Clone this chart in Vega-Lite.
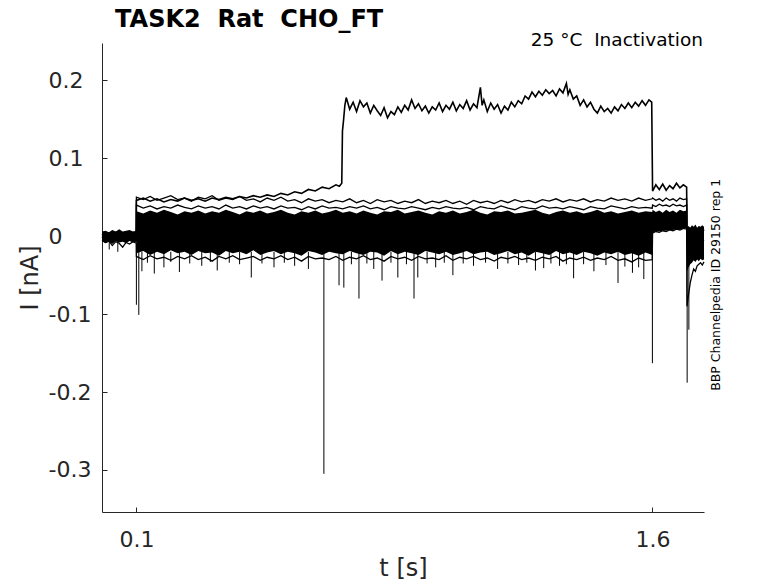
{
  "$schema": "https://vega.github.io/schema/vega-lite/v6.json",
  "autosize": "none",
  "padding": {"left": 102, "top": 43, "right": 74, "bottom": 71},
  "width": 602,
  "height": 469,
  "background": "white",
  "datasets": {
    "trace": [
      {"t": 0, "lo": -0.006, "hi": 0.006, "a": 0.003, "b": -0.002, "c": -0.005},
      {"t": 0.01, "lo": -0.009, "hi": 0.007, "a": 0.001, "b": 0.004, "c": -0.008},
      {"t": 0.02, "lo": -0.007, "hi": 0.005, "a": 0.004, "b": -0.001, "c": -0.006},
      {"t": 0.03, "lo": -0.01, "hi": 0.008, "a": 0.002, "b": 0.003, "c": -0.012},
      {"t": 0.04, "lo": -0.006, "hi": 0.006, "a": 0.005, "b": -0.003, "c": -0.007},
      {"t": 0.05, "lo": -0.008, "hi": 0.009, "a": 0.003, "b": 0.002, "c": -0.009},
      {"t": 0.06, "lo": -0.007, "hi": 0.006, "a": 0.001, "b": -0.002, "c": -0.014},
      {"t": 0.07, "lo": -0.009, "hi": 0.007, "a": 0.004, "b": 0.003, "c": -0.008},
      {"t": 0.08, "lo": -0.006, "hi": 0.008, "a": 0.002, "b": -0.001, "c": -0.01},
      {"t": 0.09, "lo": -0.008, "hi": 0.006, "a": 0.005, "b": 0.002, "c": -0.007},
      {"t": 0.0995, "lo": -0.007, "hi": 0.007, "a": 0.003, "b": 0.0, "c": -0.009},
      {"t": 0.1, "lo": -0.022, "hi": 0.032, "a": 0.05, "b": 0.04, "c": -0.026},
      {"t": 0.12, "lo": -0.019, "hi": 0.029, "a": 0.047, "b": 0.036, "c": -0.03},
      {"t": 0.14, "lo": -0.024, "hi": 0.033, "a": 0.051, "b": 0.039, "c": -0.025},
      {"t": 0.16, "lo": -0.02, "hi": 0.03, "a": 0.046, "b": 0.035, "c": -0.029},
      {"t": 0.18, "lo": -0.023, "hi": 0.034, "a": 0.049, "b": 0.038, "c": -0.027},
      {"t": 0.2, "lo": -0.018, "hi": 0.031, "a": 0.052, "b": 0.036, "c": -0.031},
      {"t": 0.22, "lo": -0.022, "hi": 0.028, "a": 0.047, "b": 0.04, "c": -0.026},
      {"t": 0.24, "lo": -0.02, "hi": 0.032, "a": 0.049, "b": 0.037, "c": -0.029},
      {"t": 0.26, "lo": -0.024, "hi": 0.03, "a": 0.045, "b": 0.035, "c": -0.025},
      {"t": 0.28, "lo": -0.019, "hi": 0.033, "a": 0.05, "b": 0.039, "c": -0.03},
      {"t": 0.3, "lo": -0.022, "hi": 0.029, "a": 0.048, "b": 0.036, "c": -0.027},
      {"t": 0.32, "lo": -0.021, "hi": 0.032, "a": 0.052, "b": 0.038, "c": -0.032},
      {"t": 0.34, "lo": -0.025, "hi": 0.03, "a": 0.046, "b": 0.035, "c": -0.026},
      {"t": 0.36, "lo": -0.019, "hi": 0.034, "a": 0.049, "b": 0.04, "c": -0.029},
      {"t": 0.38, "lo": -0.022, "hi": 0.031, "a": 0.047, "b": 0.036, "c": -0.025},
      {"t": 0.4, "lo": -0.02, "hi": 0.028, "a": 0.051, "b": 0.038, "c": -0.03},
      {"t": 0.42, "lo": -0.023, "hi": 0.032, "a": 0.046, "b": 0.035, "c": -0.028},
      {"t": 0.44, "lo": -0.018, "hi": 0.03, "a": 0.048, "b": 0.039, "c": -0.026},
      {"t": 0.46, "lo": -0.024, "hi": 0.033, "a": 0.044, "b": 0.036, "c": -0.031},
      {"t": 0.48, "lo": -0.021, "hi": 0.029, "a": 0.049, "b": 0.038, "c": -0.027},
      {"t": 0.5, "lo": -0.019, "hi": 0.031, "a": 0.046, "b": 0.035, "c": -0.029},
      {"t": 0.52, "lo": -0.023, "hi": 0.034, "a": 0.05, "b": 0.039, "c": -0.025},
      {"t": 0.54, "lo": -0.02, "hi": 0.03, "a": 0.045, "b": 0.036, "c": -0.03},
      {"t": 0.56, "lo": -0.022, "hi": 0.028, "a": 0.047, "b": 0.037, "c": -0.027},
      {"t": 0.58, "lo": -0.025, "hi": 0.032, "a": 0.043, "b": 0.034, "c": -0.032},
      {"t": 0.6, "lo": -0.019, "hi": 0.03, "a": 0.048, "b": 0.038, "c": -0.026},
      {"t": 0.62, "lo": -0.021, "hi": 0.033, "a": 0.045, "b": 0.035, "c": -0.029},
      {"t": 0.64, "lo": -0.024, "hi": 0.029, "a": 0.047, "b": 0.039, "c": -0.028},
      {"t": 0.66, "lo": -0.02, "hi": 0.031, "a": 0.043, "b": 0.036, "c": -0.03},
      {"t": 0.68, "lo": -0.022, "hi": 0.034, "a": 0.046, "b": 0.037, "c": -0.026},
      {"t": 0.7, "lo": -0.023, "hi": 0.03, "a": 0.044, "b": 0.035, "c": -0.031},
      {"t": 0.72, "lo": -0.019, "hi": 0.032, "a": 0.048, "b": 0.038, "c": -0.027},
      {"t": 0.74, "lo": -0.022, "hi": 0.029, "a": 0.043, "b": 0.036, "c": -0.029},
      {"t": 0.76, "lo": -0.024, "hi": 0.033, "a": 0.046, "b": 0.039, "c": -0.025},
      {"t": 0.78, "lo": -0.02, "hi": 0.03, "a": 0.042, "b": 0.035, "c": -0.03},
      {"t": 0.8, "lo": -0.021, "hi": 0.028, "a": 0.047, "b": 0.037, "c": -0.028},
      {"t": 0.82, "lo": -0.025, "hi": 0.032, "a": 0.044, "b": 0.034, "c": -0.032},
      {"t": 0.84, "lo": -0.019, "hi": 0.031, "a": 0.046, "b": 0.038, "c": -0.026},
      {"t": 0.86, "lo": -0.023, "hi": 0.034, "a": 0.042, "b": 0.036, "c": -0.029},
      {"t": 0.88, "lo": -0.02, "hi": 0.029, "a": 0.045, "b": 0.035, "c": -0.027},
      {"t": 0.9, "lo": -0.022, "hi": 0.031, "a": 0.043, "b": 0.038, "c": -0.031},
      {"t": 0.92, "lo": -0.024, "hi": 0.033, "a": 0.047, "b": 0.036, "c": -0.026},
      {"t": 0.94, "lo": -0.019, "hi": 0.03, "a": 0.042, "b": 0.034, "c": -0.029},
      {"t": 0.96, "lo": -0.021, "hi": 0.028, "a": 0.045, "b": 0.037, "c": -0.028},
      {"t": 0.98, "lo": -0.023, "hi": 0.032, "a": 0.043, "b": 0.035, "c": -0.03},
      {"t": 1.0, "lo": -0.02, "hi": 0.03, "a": 0.046, "b": 0.038, "c": -0.025},
      {"t": 1.02, "lo": -0.024, "hi": 0.033, "a": 0.042, "b": 0.036, "c": -0.031},
      {"t": 1.04, "lo": -0.022, "hi": 0.029, "a": 0.045, "b": 0.035, "c": -0.027},
      {"t": 1.06, "lo": -0.019, "hi": 0.031, "a": 0.041, "b": 0.037, "c": -0.029},
      {"t": 1.08, "lo": -0.023, "hi": 0.034, "a": 0.046, "b": 0.034, "c": -0.026},
      {"t": 1.1, "lo": -0.021, "hi": 0.03, "a": 0.043, "b": 0.038, "c": -0.03},
      {"t": 1.12, "lo": -0.02, "hi": 0.028, "a": 0.045, "b": 0.036, "c": -0.028},
      {"t": 1.14, "lo": -0.024, "hi": 0.032, "a": 0.042, "b": 0.035, "c": -0.032},
      {"t": 1.16, "lo": -0.022, "hi": 0.031, "a": 0.046, "b": 0.039, "c": -0.027},
      {"t": 1.18, "lo": -0.019, "hi": 0.033, "a": 0.043, "b": 0.036, "c": -0.029},
      {"t": 1.2, "lo": -0.023, "hi": 0.029, "a": 0.047, "b": 0.034, "c": -0.026},
      {"t": 1.22, "lo": -0.021, "hi": 0.03, "a": 0.044, "b": 0.038, "c": -0.03},
      {"t": 1.24, "lo": -0.025, "hi": 0.032, "a": 0.046, "b": 0.036, "c": -0.028},
      {"t": 1.26, "lo": -0.02, "hi": 0.034, "a": 0.043, "b": 0.035, "c": -0.031},
      {"t": 1.28, "lo": -0.022, "hi": 0.03, "a": 0.047, "b": 0.039, "c": -0.027},
      {"t": 1.3, "lo": -0.024, "hi": 0.028, "a": 0.045, "b": 0.036, "c": -0.029},
      {"t": 1.32, "lo": -0.019, "hi": 0.031, "a": 0.048, "b": 0.037, "c": -0.026},
      {"t": 1.34, "lo": -0.023, "hi": 0.033, "a": 0.044, "b": 0.035, "c": -0.032},
      {"t": 1.36, "lo": -0.021, "hi": 0.03, "a": 0.047, "b": 0.038, "c": -0.028},
      {"t": 1.38, "lo": -0.024, "hi": 0.032, "a": 0.045, "b": 0.036, "c": -0.03},
      {"t": 1.4, "lo": -0.02, "hi": 0.029, "a": 0.048, "b": 0.034, "c": -0.027},
      {"t": 1.42, "lo": -0.022, "hi": 0.031, "a": 0.044, "b": 0.038, "c": -0.031},
      {"t": 1.44, "lo": -0.025, "hi": 0.034, "a": 0.047, "b": 0.036, "c": -0.028},
      {"t": 1.46, "lo": -0.021, "hi": 0.03, "a": 0.045, "b": 0.035, "c": -0.03},
      {"t": 1.48, "lo": -0.023, "hi": 0.032, "a": 0.049, "b": 0.039, "c": -0.026},
      {"t": 1.5, "lo": -0.02, "hi": 0.029, "a": 0.046, "b": 0.037, "c": -0.031},
      {"t": 1.52, "lo": -0.024, "hi": 0.031, "a": 0.048, "b": 0.035, "c": -0.029},
      {"t": 1.54, "lo": -0.022, "hi": 0.033, "a": 0.045, "b": 0.038, "c": -0.033},
      {"t": 1.56, "lo": -0.025, "hi": 0.03, "a": 0.049, "b": 0.036, "c": -0.028},
      {"t": 1.58, "lo": -0.021, "hi": 0.032, "a": 0.046, "b": 0.037, "c": -0.031},
      {"t": 1.5995, "lo": -0.024, "hi": 0.031, "a": 0.048, "b": 0.036, "c": -0.03},
      {"t": 1.6005, "lo": 0.005, "hi": 0.034, "a": 0.049, "b": 0.04, "c": 0.004},
      {"t": 1.61, "lo": 0.006, "hi": 0.031, "a": 0.046, "b": 0.038, "c": 0.006},
      {"t": 1.62, "lo": 0.006, "hi": 0.033, "a": 0.048, "b": 0.041, "c": 0.005},
      {"t": 1.63, "lo": 0.007, "hi": 0.03, "a": 0.045, "b": 0.039, "c": 0.007},
      {"t": 1.64, "lo": 0.007, "hi": 0.034, "a": 0.049, "b": 0.04, "c": 0.006},
      {"t": 1.65, "lo": 0.008, "hi": 0.031, "a": 0.046, "b": 0.038, "c": 0.008},
      {"t": 1.66, "lo": 0.008, "hi": 0.033, "a": 0.048, "b": 0.041, "c": 0.007},
      {"t": 1.67, "lo": 0.009, "hi": 0.03, "a": 0.045, "b": 0.039, "c": 0.009},
      {"t": 1.68, "lo": 0.009, "hi": 0.034, "a": 0.049, "b": 0.04, "c": 0.008},
      {"t": 1.69, "lo": 0.01, "hi": 0.032, "a": 0.047, "b": 0.038, "c": 0.01},
      {"t": 1.6995, "lo": 0.01, "hi": 0.033, "a": 0.048, "b": 0.04, "c": 0.009},
      {"t": 1.7005, "lo": -0.045, "hi": 0.01, "a": 0.008, "b": -0.01, "c": -0.09},
      {"t": 1.705, "lo": -0.04, "hi": 0.013, "a": 0.011, "b": -0.005, "c": -0.075},
      {"t": 1.71, "lo": -0.036, "hi": 0.011, "a": 0.006, "b": -0.012, "c": -0.06},
      {"t": 1.715, "lo": -0.034, "hi": 0.014, "a": 0.01, "b": -0.004, "c": -0.05},
      {"t": 1.72, "lo": -0.031, "hi": 0.012, "a": 0.007, "b": -0.009, "c": -0.042},
      {"t": 1.725, "lo": -0.033, "hi": 0.015, "a": 0.012, "b": -0.003, "c": -0.045},
      {"t": 1.73, "lo": -0.03, "hi": 0.011, "a": 0.008, "b": -0.008, "c": -0.038},
      {"t": 1.735, "lo": -0.032, "hi": 0.013, "a": 0.011, "b": -0.002, "c": -0.036},
      {"t": 1.74, "lo": -0.029, "hi": 0.012, "a": 0.006, "b": -0.007, "c": -0.034},
      {"t": 1.745, "lo": -0.031, "hi": 0.014, "a": 0.01, "b": -0.004, "c": -0.037},
      {"t": 1.75, "lo": -0.03, "hi": 0.012, "a": 0.008, "b": -0.006, "c": -0.033}
    ],
    "raised": [
      {"t": 0, "i": 0.002}, {"t": 0.02, "i": -0.003}, {"t": 0.04, "i": 0.004}, {"t": 0.06, "i": -0.001},
      {"t": 0.08, "i": 0.003}, {"t": 0.0995, "i": 0.0},
      {"t": 0.1, "i": 0.046}, {"t": 0.12, "i": 0.049}, {"t": 0.14, "i": 0.045}, {"t": 0.16, "i": 0.048},
      {"t": 0.18, "i": 0.044}, {"t": 0.2, "i": 0.047}, {"t": 0.22, "i": 0.045}, {"t": 0.24, "i": 0.049},
      {"t": 0.26, "i": 0.046}, {"t": 0.28, "i": 0.048}, {"t": 0.3, "i": 0.045}, {"t": 0.32, "i": 0.049},
      {"t": 0.34, "i": 0.047}, {"t": 0.36, "i": 0.05}, {"t": 0.38, "i": 0.048}, {"t": 0.4, "i": 0.051},
      {"t": 0.42, "i": 0.049}, {"t": 0.44, "i": 0.052}, {"t": 0.46, "i": 0.05}, {"t": 0.48, "i": 0.053},
      {"t": 0.5, "i": 0.051}, {"t": 0.52, "i": 0.055}, {"t": 0.54, "i": 0.053}, {"t": 0.56, "i": 0.057},
      {"t": 0.58, "i": 0.055}, {"t": 0.6, "i": 0.06}, {"t": 0.62, "i": 0.058}, {"t": 0.64, "i": 0.063},
      {"t": 0.66, "i": 0.061}, {"t": 0.68, "i": 0.066}, {"t": 0.69, "i": 0.064}, {"t": 0.697, "i": 0.068},
      {"t": 0.699, "i": 0.135}, {"t": 0.702, "i": 0.148}, {"t": 0.706, "i": 0.168},
      {"t": 0.71, "i": 0.178}, {"t": 0.72, "i": 0.163}, {"t": 0.73, "i": 0.172}, {"t": 0.74, "i": 0.16},
      {"t": 0.75, "i": 0.174}, {"t": 0.76, "i": 0.166}, {"t": 0.77, "i": 0.171}, {"t": 0.78, "i": 0.158},
      {"t": 0.79, "i": 0.168}, {"t": 0.8, "i": 0.161}, {"t": 0.81, "i": 0.155}, {"t": 0.82, "i": 0.165},
      {"t": 0.83, "i": 0.152}, {"t": 0.84, "i": 0.16}, {"t": 0.85, "i": 0.156}, {"t": 0.86, "i": 0.166},
      {"t": 0.87, "i": 0.159}, {"t": 0.88, "i": 0.168}, {"t": 0.89, "i": 0.162}, {"t": 0.9, "i": 0.175},
      {"t": 0.91, "i": 0.164}, {"t": 0.92, "i": 0.17}, {"t": 0.93, "i": 0.161}, {"t": 0.94, "i": 0.167},
      {"t": 0.95, "i": 0.158}, {"t": 0.96, "i": 0.166}, {"t": 0.97, "i": 0.162}, {"t": 0.98, "i": 0.171},
      {"t": 0.99, "i": 0.16}, {"t": 1.0, "i": 0.168}, {"t": 1.01, "i": 0.163}, {"t": 1.02, "i": 0.172},
      {"t": 1.03, "i": 0.161}, {"t": 1.04, "i": 0.169}, {"t": 1.05, "i": 0.164}, {"t": 1.06, "i": 0.174},
      {"t": 1.07, "i": 0.162}, {"t": 1.08, "i": 0.17}, {"t": 1.09, "i": 0.165}, {"t": 1.1, "i": 0.191},
      {"t": 1.105, "i": 0.168}, {"t": 1.11, "i": 0.175}, {"t": 1.12, "i": 0.16}, {"t": 1.13, "i": 0.171},
      {"t": 1.14, "i": 0.163}, {"t": 1.15, "i": 0.169}, {"t": 1.16, "i": 0.158}, {"t": 1.17, "i": 0.167},
      {"t": 1.18, "i": 0.162}, {"t": 1.19, "i": 0.172}, {"t": 1.2, "i": 0.166}, {"t": 1.21, "i": 0.174},
      {"t": 1.22, "i": 0.17}, {"t": 1.23, "i": 0.18}, {"t": 1.24, "i": 0.176}, {"t": 1.25, "i": 0.185},
      {"t": 1.26, "i": 0.179}, {"t": 1.27, "i": 0.186}, {"t": 1.28, "i": 0.181}, {"t": 1.29, "i": 0.188},
      {"t": 1.3, "i": 0.183}, {"t": 1.31, "i": 0.187}, {"t": 1.32, "i": 0.18}, {"t": 1.33, "i": 0.189},
      {"t": 1.34, "i": 0.184}, {"t": 1.35, "i": 0.196}, {"t": 1.355, "i": 0.182}, {"t": 1.36, "i": 0.188},
      {"t": 1.37, "i": 0.176}, {"t": 1.38, "i": 0.18}, {"t": 1.39, "i": 0.168}, {"t": 1.4, "i": 0.175},
      {"t": 1.41, "i": 0.166}, {"t": 1.42, "i": 0.172}, {"t": 1.43, "i": 0.163}, {"t": 1.44, "i": 0.158},
      {"t": 1.45, "i": 0.167}, {"t": 1.46, "i": 0.16}, {"t": 1.47, "i": 0.164}, {"t": 1.48, "i": 0.158},
      {"t": 1.49, "i": 0.166}, {"t": 1.5, "i": 0.161}, {"t": 1.51, "i": 0.169}, {"t": 1.52, "i": 0.164},
      {"t": 1.53, "i": 0.171}, {"t": 1.54, "i": 0.165}, {"t": 1.55, "i": 0.172}, {"t": 1.56, "i": 0.167},
      {"t": 1.57, "i": 0.174}, {"t": 1.58, "i": 0.168}, {"t": 1.59, "i": 0.175}, {"t": 1.598, "i": 0.172},
      {"t": 1.6005, "i": 0.058}, {"t": 1.61, "i": 0.066}, {"t": 1.62, "i": 0.06}, {"t": 1.63, "i": 0.067},
      {"t": 1.64, "i": 0.059}, {"t": 1.65, "i": 0.065}, {"t": 1.66, "i": 0.061}, {"t": 1.67, "i": 0.068},
      {"t": 1.68, "i": 0.062}, {"t": 1.69, "i": 0.066}, {"t": 1.6995, "i": 0.063},
      {"t": 1.7005, "i": 0.005}, {"t": 1.71, "i": 0.01}, {"t": 1.72, "i": 0.004}, {"t": 1.73, "i": 0.009},
      {"t": 1.74, "i": 0.003}, {"t": 1.75, "i": 0.008}
    ],
    "spikes": [
      {"t": 0.021, "lo": -0.017, "hi": -0.005},
      {"t": 0.046, "lo": -0.02, "hi": -0.005},
      {"t": 0.1, "lo": -0.088, "hi": -0.01},
      {"t": 0.107, "lo": -0.101, "hi": -0.015},
      {"t": 0.116, "lo": -0.045, "hi": -0.02},
      {"t": 0.132, "lo": -0.034, "hi": -0.02},
      {"t": 0.152, "lo": -0.048, "hi": -0.02},
      {"t": 0.18, "lo": -0.04, "hi": -0.02},
      {"t": 0.2, "lo": -0.033, "hi": -0.02},
      {"t": 0.225, "lo": -0.046, "hi": -0.02},
      {"t": 0.255, "lo": -0.035, "hi": -0.02},
      {"t": 0.29, "lo": -0.038, "hi": -0.02},
      {"t": 0.315, "lo": -0.033, "hi": -0.02},
      {"t": 0.335, "lo": -0.044, "hi": -0.02},
      {"t": 0.37, "lo": -0.034, "hi": -0.02},
      {"t": 0.4, "lo": -0.036, "hi": -0.02},
      {"t": 0.434, "lo": -0.053, "hi": -0.02},
      {"t": 0.465, "lo": -0.035, "hi": -0.02},
      {"t": 0.5, "lo": -0.04, "hi": -0.02},
      {"t": 0.53, "lo": -0.034, "hi": -0.02},
      {"t": 0.56, "lo": -0.038, "hi": -0.02},
      {"t": 0.6, "lo": -0.042, "hi": -0.02},
      {"t": 0.645, "lo": -0.305, "hi": -0.02},
      {"t": 0.689, "lo": -0.063, "hi": -0.02},
      {"t": 0.703, "lo": -0.066, "hi": -0.02},
      {"t": 0.725, "lo": -0.036, "hi": -0.02},
      {"t": 0.747, "lo": -0.08, "hi": -0.02},
      {"t": 0.77, "lo": -0.035, "hi": -0.02},
      {"t": 0.79, "lo": -0.042, "hi": -0.02},
      {"t": 0.814, "lo": -0.057, "hi": -0.02},
      {"t": 0.84, "lo": -0.034, "hi": -0.02},
      {"t": 0.86, "lo": -0.053, "hi": -0.02},
      {"t": 0.885, "lo": -0.036, "hi": -0.02},
      {"t": 0.907, "lo": -0.08, "hi": -0.02},
      {"t": 0.918, "lo": -0.053, "hi": -0.02},
      {"t": 0.945, "lo": -0.035, "hi": -0.02},
      {"t": 0.97, "lo": -0.04, "hi": -0.02},
      {"t": 0.995, "lo": -0.034, "hi": -0.02},
      {"t": 1.02, "lo": -0.05, "hi": -0.02},
      {"t": 1.05, "lo": -0.035, "hi": -0.02},
      {"t": 1.08, "lo": -0.038, "hi": -0.02},
      {"t": 1.115, "lo": -0.034, "hi": -0.02},
      {"t": 1.15, "lo": -0.042, "hi": -0.02},
      {"t": 1.18, "lo": -0.035, "hi": -0.02},
      {"t": 1.211, "lo": -0.037, "hi": -0.02},
      {"t": 1.235, "lo": -0.034, "hi": -0.02},
      {"t": 1.26, "lo": -0.044, "hi": -0.02},
      {"t": 1.284, "lo": -0.041, "hi": -0.02},
      {"t": 1.305, "lo": -0.035, "hi": -0.02},
      {"t": 1.33, "lo": -0.038, "hi": -0.02},
      {"t": 1.35, "lo": -0.036, "hi": -0.02},
      {"t": 1.371, "lo": -0.054, "hi": -0.02},
      {"t": 1.4, "lo": -0.036, "hi": -0.02},
      {"t": 1.43, "lo": -0.045, "hi": -0.02},
      {"t": 1.465, "lo": -0.037, "hi": -0.02},
      {"t": 1.5, "lo": -0.06, "hi": -0.02},
      {"t": 1.52, "lo": -0.039, "hi": -0.02},
      {"t": 1.542, "lo": -0.047, "hi": -0.02},
      {"t": 1.56, "lo": -0.04, "hi": -0.02},
      {"t": 1.575, "lo": -0.055, "hi": -0.02},
      {"t": 1.6, "lo": -0.163, "hi": 0.03},
      {"t": 1.701, "lo": -0.188, "hi": 0.005},
      {"t": 1.706, "lo": -0.12, "hi": -0.02}
    ]
  },
  "encoding": {
    "x": {
      "field": "t",
      "type": "quantitative",
      "title": "t [s]",
      "scale": {"domain": [0, 1.75], "nice": false, "zero": false},
      "axis": {"values": [0.1, 1.6], "format": ".1f"}
    }
  },
  "layer": [
    {
      "data": {"name": "trace"},
      "mark": {"type": "area", "color": "black", "opacity": 1},
      "encoding": {
        "y": {
          "field": "lo",
          "type": "quantitative",
          "title": "I [nA]",
          "scale": {"domain": [-0.354, 0.248], "nice": false, "zero": false},
          "axis": {
            "values": [-0.3, -0.2, -0.1, 0, 0.1, 0.2],
            "labelExpr": "datum.value == 0 ? '\u00a00' : '' + datum.value",
            "labelAlign": "left"
          }
        },
        "y2": {"field": "hi"}
      }
    },
    {
      "data": {"name": "trace"},
      "mark": {"type": "line", "color": "black", "strokeWidth": 1.3},
      "encoding": {
        "y": {"field": "a", "type": "quantitative", "title": "I [nA]", "scale": {"domain": [-0.354, 0.248], "nice": false, "zero": false}}
      }
    },
    {
      "data": {"name": "trace"},
      "mark": {"type": "line", "color": "black", "strokeWidth": 1.3},
      "encoding": {
        "y": {"field": "b", "type": "quantitative", "title": "I [nA]", "scale": {"domain": [-0.354, 0.248], "nice": false, "zero": false}}
      }
    },
    {
      "data": {"name": "trace"},
      "mark": {"type": "line", "color": "black", "strokeWidth": 1.3},
      "encoding": {
        "y": {"field": "c", "type": "quantitative", "title": "I [nA]", "scale": {"domain": [-0.354, 0.248], "nice": false, "zero": false}}
      }
    },
    {
      "data": {"name": "raised"},
      "mark": {"type": "line", "color": "black", "strokeWidth": 1.6},
      "encoding": {
        "y": {"field": "i", "type": "quantitative", "title": "I [nA]", "scale": {"domain": [-0.354, 0.248], "nice": false, "zero": false}}
      }
    },
    {
      "data": {"name": "spikes"},
      "mark": {"type": "rule", "color": "black", "strokeWidth": 1},
      "encoding": {
        "y": {"field": "lo", "type": "quantitative", "title": "I [nA]", "scale": {"domain": [-0.354, 0.248], "nice": false, "zero": false}},
        "y2": {"field": "hi"}
      }
    },
    {
      "data": {"values": [{"t": 0.038, "i": 0.2686, "label": "TASK2\u00a0 Rat\u00a0 CHO_FT"}]},
      "mark": {"type": "text", "align": "left", "baseline": "alphabetic", "fontSize": 24, "fontWeight": "bold", "font": "DejaVu Sans", "color": "black"},
      "encoding": {
        "y": {"field": "i", "type": "quantitative", "title": "I [nA]", "scale": {"domain": [-0.354, 0.248], "nice": false, "zero": false}},
        "text": {"field": "label"}
      }
    },
    {
      "data": {"values": [{"t": 1.747, "i": 0.252, "label": "25 °C\u00a0 Inactivation"}]},
      "mark": {"type": "text", "align": "right", "baseline": "middle", "fontSize": 18.5, "font": "DejaVu Sans", "color": "black"},
      "encoding": {
        "y": {"field": "i", "type": "quantitative", "title": "I [nA]", "scale": {"domain": [-0.354, 0.248], "nice": false, "zero": false}},
        "text": {"field": "label"}
      }
    },
    {
      "data": {"values": [{"t": 1.785, "i": -0.0624, "label": "BBP Channelpedia ID 29150 rep 1"}]},
      "mark": {"type": "text", "align": "center", "baseline": "middle", "angle": 270, "fontSize": 12.5, "font": "DejaVu Sans", "color": "black"},
      "encoding": {
        "y": {"field": "i", "type": "quantitative", "title": "I [nA]", "scale": {"domain": [-0.354, 0.248], "nice": false, "zero": false}},
        "text": {"field": "label"}
      }
    }
  ],
  "config": {
    "view": {"stroke": null},
    "font": "DejaVu Sans",
    "axis": {
      "grid": false,
      "domainColor": "#262626",
      "tickColor": "#262626",
      "labelColor": "#262626",
      "titleColor": "#262626",
      "labelFont": "DejaVu Sans",
      "titleFont": "DejaVu Sans",
      "labelFontSize": 22,
      "titleFontSize": 24,
      "titleFontWeight": "normal",
      "tickSize": -5,
      "domainWidth": 1,
      "tickWidth": 1
    },
    "axisX": {"labelPadding": 22, "titlePadding": 6},
    "axisY": {"labelPadding": 59, "titlePadding": 6}
  }
}
